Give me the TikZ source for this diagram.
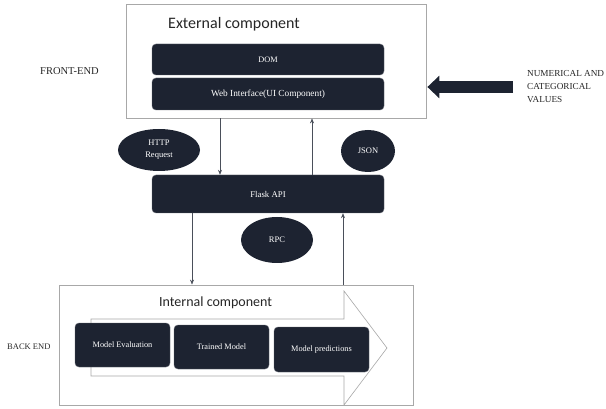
\documentclass[tikz,border=0pt]{standalone}
\usepackage{fontspec}
\setmainfont{Liberation Serif}
\newfontfamily\headfont{Carlito}
\usetikzlibrary{arrows.meta,shapes.geometric}
\definecolor{navy}{HTML}{1D2331}
\definecolor{frame}{HTML}{A8A8A8}
\tikzset{
  x=1pt, y=-1pt,
  panel/.style={draw=frame, line width=0.8pt, fill=white, inner sep=0pt},
  darkbox/.style={fill=navy, draw=navy!70!white, line width=0.4pt, rounded corners=4pt,
    text=white, font=\fontsize{8.3}{9}\selectfont, inner sep=0pt, align=center},
  blob/.style={ellipse, fill=navy, text=white, font=\fontsize{8.5}{12}\selectfont,
    inner sep=0pt, align=center},
  tag/.style={font=\fontsize{9.2}{13}\selectfont, inner sep=0pt, align=left, text=black!85},
  heading/.style={font=\headfont\fontsize{16}{18}\selectfont, inner sep=0pt, text=black!85},
  flow/.style={draw=navy!80, line width=0.6pt, -{Stealth[length=5pt,width=4pt]}},
  bigarrow/.style={draw=navy, line width=12pt, -{Triangle[length=12pt,width=22pt]}},
}
\begin{document}
\begin{tikzpicture}
\useasboundingbox (0,0) rectangle (606,409);

% front end panel
\node[panel, minimum width=300pt, minimum height=114pt] (top) at (276,61) {};
\node[heading, anchor=west] (exthead) at (168,24) {External component};
\node[darkbox, minimum width=232pt, minimum height=31pt] (dom) at (268,59.5) {DOM};
\node[darkbox, minimum width=232pt, minimum height=32pt, font=\fontsize{9.3}{10}\selectfont] (web) at (268,94) {Web Interface(UI Component)};

% labels outside the panels
\node[tag, anchor=west, font=\fontsize{10.5}{12}\selectfont] (fe) at (40,71) {FRONT-END};
\node[tag, anchor=west] (vals) at (527,87) {NUMERICAL AND\\CATEGORICAL\\VALUES};
\node[tag, anchor=west, font=\fontsize{8.5}{10}\selectfont] (be) at (7,347) {BACK END};

% input arrow into the front end
\draw[bigarrow] ([xshift=-14pt]vals.west) -- ([xshift=1pt]top.east |- vals.west);

% middle tier
\node[darkbox, minimum width=232pt, minimum height=38pt, font=\fontsize{8.8}{9}\selectfont] (flask) at (268,194) {Flask API};
\node[blob, minimum width=82pt, minimum height=42pt] (http) at (159,150) {HTTP\\Request};
\node[blob, minimum width=54pt, minimum height=42pt] (json) at (368,151) {JSON};
\node[blob, minimum width=72pt, minimum height=46pt] (rpc) at (277,240) {RPC};

% back end panel
\node[panel, minimum width=354pt, minimum height=120pt] (bottom) at (236,345) {};
\draw[draw=frame, line width=0.6pt, fill=white]
  (91,319) -- (344,319) -- (344,291) -- (387,348) -- (344,405) -- (344,376) -- (91,376) -- cycle;
\node[heading, anchor=west, font=\headfont\fontsize{14}{16}\selectfont] (inthead) at (159,303) {Internal component};
\node[darkbox, minimum width=95pt, minimum height=44pt] (eval) at (122.5,345) {Model Evaluation};
\node[darkbox, minimum width=95pt, minimum height=44pt] (trained) at (221.5,347) {Trained Model};
\node[darkbox, minimum width=95pt, minimum height=45pt] (pred) at (321.5,349.5) {Model predictions};

% request / response connectors
\draw[flow] ([xshift=-56pt]top.south) -- ([xshift=-56pt]top.south |- flask.north);
\draw[flow] ([xshift=36pt]top.south |- flask.north) -- ([xshift=36pt]top.south);
\draw[flow] ([xshift=-76pt]flask.south) -- ([xshift=-76pt]flask.south |- bottom.north);
\draw[flow] ([xshift=75pt]flask.south |- bottom.north) -- ([xshift=75pt]flask.south);
\end{tikzpicture}
\end{document}
